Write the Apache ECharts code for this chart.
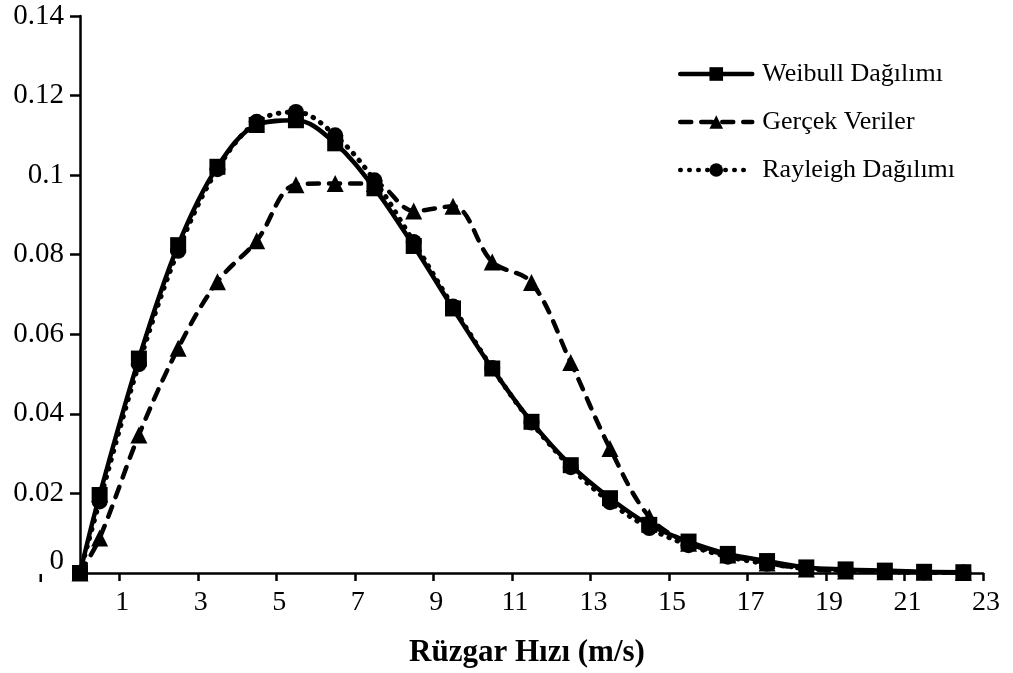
<!DOCTYPE html>
<html><head><meta charset="utf-8">
<script src="https://cdn.jsdelivr.net/npm/echarts@6/dist/echarts.min.js"></script>
<style>html,body{margin:0;padding:0;background:#fff}#c{width:1013px;height:673px}</style>
</head><body><div id="c"></div>
<script>
// ---- data ----
const xValues = [0, 0.5, 1.5, 2.5, 3.5, 4.5, 5.5, 6.5, 7.5, 8.5, 9.5, 10.5, 11.5, 12.5, 13.5, 14.5, 15.5, 16.5, 17.5, 18.5, 19.5, 20.5, 21.5, 22.5];
const weibull  = [0, 0.0196, 0.0539, 0.0824, 0.1021, 0.1126, 0.1138, 0.1080, 0.0967, 0.0822, 0.0665, 0.0514, 0.0380, 0.0271, 0.0188, 0.0121, 0.0079, 0.0048, 0.0030, 0.0014, 0.0009, 0.0006, 0.0003, 0.0002];
const gercek   = [0, 0.0088, 0.0347, 0.0565, 0.0732, 0.0835, 0.0976, 0.0979, 0.0979, 0.0910, 0.0922, 0.0782, 0.0730, 0.0529, 0.0313, 0.0141, 0.0075, 0.0045, 0.0025, 0.0010, 0.0005, 0.0003, 0.0002, 0.0001];
const rayleigh = [0, 0.0180, 0.0525, 0.0810, 0.1015, 0.1134, 0.1159, 0.1100, 0.0987, 0.0832, 0.0670, 0.0515, 0.0378, 0.0266, 0.0178, 0.0113, 0.0070, 0.0041, 0.0023, 0.0012, 0.0006, 0.0003, 0.0001, 0.0001];
const seriesNames = ['Weibull Dağılımı', 'Gerçek Veriler', 'Rayleigh Dağılımı'];
const xAxisTitle = 'Rüzgar Hızı (m/s)';
const xTickValues = [1, 3, 5, 7, 9, 11, 13, 15, 17, 19, 21, 23];
const xStrayTick = -1;
const yTickValues = [0.02, 0.04, 0.06, 0.08, 0.1, 0.12, 0.14];
const xMin = 0, xMax = 23;
const yMin = 0, yMax = 0.14, yStep = 0.02;

// ---- chart ----
const FONT = '"Liberation Serif", "Times New Roman", serif';
const pair = arr => xValues.map((x, i) => [x, arr[i]]);
const chart = echarts.init(document.getElementById('c'), null, {renderer: 'canvas'});

const baseSeries = (name, data, symbol, lineType, size, width) => ({
  name, type: 'line', data: pair(data), smooth: 0.35,
  symbol, symbolSize: size,
  itemStyle: {color: '#000'},
  lineStyle: {color: '#000', width: width, type: lineType, cap: 'round'},
  emphasis: {disabled: true},
  clip: false,
  animation: false, z: 3
});

const option = {
  backgroundColor: '#fff',
  animation: false,
  grid: {left: 80, right: 30, top: 16, bottom: 100, containLabel: false, outerBoundsMode: 'none'},
  legend: {
    orient: 'vertical', left: 673, top: 55,
    itemWidth: 72, itemHeight: 17, itemGap: 20,
    data: seriesNames,
    lineStyle: {width: 4.5},
    textStyle: {fontFamily: FONT, fontSize: 26, color: '#000', lineHeight: 28, padding: [0, 0, 0, 5]},
    selectedMode: false
  },
  xAxis: {
    type: 'value', min: xMin, max: xMax,
    axisLine: {show: true, onZero: false, lineStyle: {color: '#000', width: 2.5}},
    axisTick: {show: true, length: 8, customValues: xTickValues, lineStyle: {color: '#000', width: 2.5}},
    splitLine: {show: false},
    axisLabel: {
      fontFamily: FONT, fontSize: 28, color: '#000', margin: 16,
      customValues: xTickValues,
      padding: [0, 0, 0, 6],
      showMinLabel: true, showMaxLabel: true
    },
    name: xAxisTitle, nameLocation: 'middle', nameGap: 64,
    nameTextStyle: {fontFamily: FONT, fontSize: 31, fontWeight: 'bold', color: '#000', padding: [0, 9, 0, 0]}
  },
  yAxis: {
    type: 'value', min: yMin, max: yMax, interval: yStep,
    axisLine: {show: true, onZero: false, lineStyle: {color: '#000', width: 2.5}},
    axisTick: {show: true, length: 10, customValues: yTickValues, lineStyle: {color: '#000', width: 2.5}},
    splitLine: {show: false},
    axisLabel: {
      fontFamily: FONT, fontSize: 29, color: '#000', margin: 16,
      formatter: v => {
        const s = String(parseFloat(v.toFixed(2)));
        return v === 0 ? '{z|0}' : s;
      },
      rich: {z: {fontFamily: FONT, fontSize: 29, color: '#000', padding: [0, 0, 24, 0]}}
    }
  },
  series: [
    baseSeries(seriesNames[0], weibull, 'rect', 'solid', 16, 4.5),
    baseSeries(seriesNames[1], gercek, 'triangle', [11, 10], 17, 4.5),
    baseSeries(seriesNames[2], rayleigh, 'circle', [0.5, 8.5], 16, 5)
  ]
};
chart.setOption(option);

// the lone tick mark left of the y axis (at x = -1), placed through the chart's own scale
const ps = chart.convertToPixel({gridIndex: 0}, [xStrayTick, 0]);
chart.setOption({
  graphic: [{
    type: 'line', z: 1, silent: true,
    shape: {x1: ps[0], y1: ps[1] + 1, x2: ps[0], y2: ps[1] + 9},
    style: {stroke: '#000', lineWidth: 2.5}
  }]
});
</script>
</body></html>
